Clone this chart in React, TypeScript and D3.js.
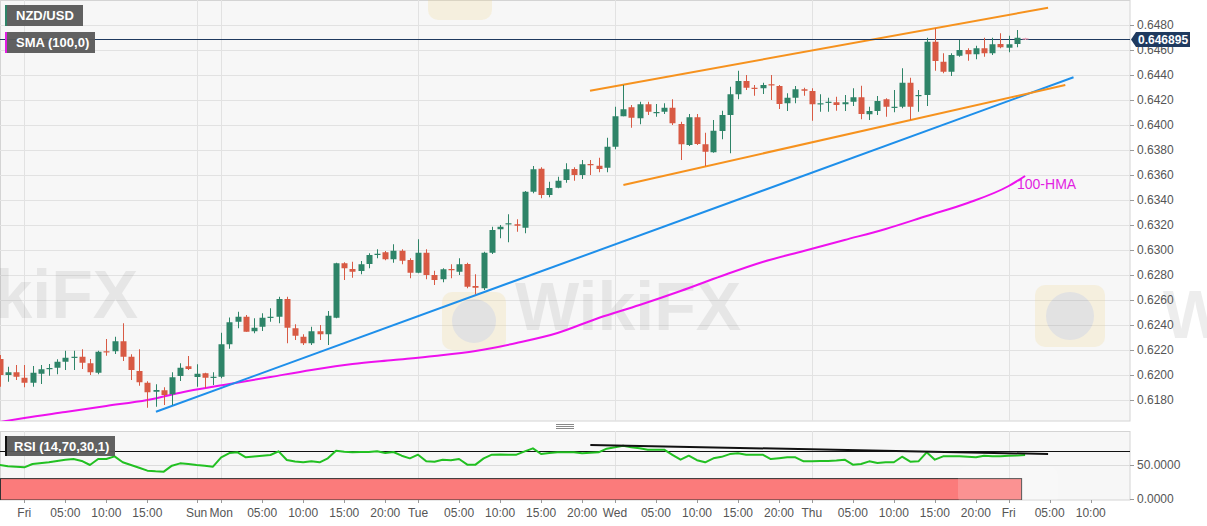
import React from "react";
import * as d3 from "d3";

// ---------- DATA ----------
const firstIndex = -3; // Thu 21:00, hourly candles, index 0 = Fri 00:00
const opens = [0.62128,0.62,0.62022,0.61978,0.61938,0.6201,0.62052,0.62058,0.62106,0.62138,0.62146,0.62094,0.62018,0.6219,0.6219,0.6227,0.62146,0.62032,0.61938,0.61866,0.61878,0.61846,0.61992,0.6207,0.61984,0.62014,0.61978,0.61986,0.62246,0.62426,0.62466,0.6235,0.62386,0.62458,0.62466,0.62608,0.62374,0.62306,0.62254,0.6235,0.62326,0.62458,0.62894,0.62848,0.62832,0.62888,0.6296,0.62982,0.62926,0.62994,0.6292,0.62818,0.62978,0.628,0.62766,0.62848,0.62826,0.62888,0.62712,0.62694,0.62978,0.63166,0.63206,0.63206,0.63178,0.63466,0.6365,0.6344,0.63498,0.6356,0.63648,0.636,0.63688,0.63674,0.63658,0.63826,0.6407,0.64142,0.64054,0.64166,0.64098,0.64106,0.64138,0.64008,0.6384,0.64062,0.63846,0.63782,0.63952,0.6408,0.64246,0.64352,0.64298,0.64294,0.64326,0.64312,0.64174,0.64218,0.64286,0.64272,0.64166,0.64178,0.64182,0.64166,0.64186,0.64222,0.64086,0.64112,0.64206,0.64138,0.64146,0.64338,0.64232,0.6424,0.64666,0.64506,0.64426,0.64554,0.646,0.64566,0.64614,0.64574,0.64648,0.64618,0.64648,0.64694];
const highs = [0.6216,0.62066,0.6208,0.6208,0.62072,0.6208,0.62088,0.62126,0.62194,0.62194,0.62206,0.62128,0.62194,0.62288,0.62306,0.62414,0.62166,0.62206,0.6195,0.61926,0.61902,0.62022,0.62094,0.62152,0.62086,0.62018,0.62022,0.62338,0.6246,0.62506,0.6248,0.62454,0.62494,0.62534,0.62626,0.62626,0.62406,0.62326,0.62386,0.624,0.62512,0.62898,0.62902,0.62906,0.62912,0.62974,0.63006,0.62992,0.63046,0.63006,0.62934,0.63086,0.63006,0.62834,0.62854,0.62886,0.62934,0.62898,0.62806,0.62986,0.63186,0.632,0.63286,0.63246,0.63472,0.63672,0.63662,0.63546,0.63586,0.63694,0.63662,0.6372,0.6372,0.63738,0.63898,0.64146,0.6432,0.6416,0.64186,0.64186,0.64168,0.64174,0.64206,0.64026,0.64088,0.64088,0.63938,0.6404,0.64114,0.64306,0.64434,0.644,0.6432,0.64338,0.644,0.6432,0.64254,0.64312,0.64298,0.64294,0.64246,0.64218,0.64226,0.6424,0.64294,0.64314,0.64146,0.64232,0.64214,0.6428,0.64454,0.64378,0.6428,0.64698,0.64774,0.64574,0.64574,0.6468,0.64614,0.64634,0.64698,0.64698,0.64734,0.64714,0.6476,0.64698];
const lows = [0.61906,0.61946,0.6196,0.61902,0.61906,0.61928,0.61994,0.62006,0.6204,0.6204,0.62048,0.62,0.62006,0.62154,0.62168,0.62112,0.6196,0.61914,0.61738,0.61746,0.6176,0.6176,0.61952,0.6204,0.61906,0.61894,0.6192,0.61974,0.6221,0.62374,0.62346,0.62334,0.62352,0.62426,0.62414,0.62254,0.6228,0.6224,0.6224,0.6228,0.6224,0.62454,0.6276,0.62778,0.62806,0.62854,0.62934,0.62918,0.62898,0.62886,0.62774,0.62814,0.62766,0.6272,0.62742,0.62774,0.628,0.62694,0.62646,0.6268,0.62968,0.63094,0.63062,0.63146,0.63134,0.63454,0.63414,0.63422,0.63494,0.63538,0.63554,0.63568,0.636,0.63622,0.63622,0.63806,0.6407,0.63978,0.64006,0.6408,0.64066,0.64088,0.64,0.6372,0.63832,0.6384,0.63672,0.63778,0.63886,0.63774,0.64206,0.6428,0.64234,0.64248,0.642,0.64128,0.64112,0.64174,0.64234,0.64034,0.64106,0.64106,0.64114,0.64112,0.64152,0.64046,0.6404,0.6408,0.64066,0.64102,0.64134,0.6404,0.64106,0.64152,0.64434,0.64414,0.64392,0.64546,0.64514,0.64526,0.64546,0.6456,0.64614,0.64582,0.64622,0.6468];
const closes = [0.62,0.62022,0.61986,0.61938,0.62018,0.62046,0.62056,0.62106,0.62138,0.62146,0.62098,0.62022,0.62186,0.62182,0.6227,0.62146,0.6204,0.61942,0.61862,0.6188,0.6184,0.61982,0.62058,0.62048,0.6201,0.61978,0.61986,0.62246,0.62422,0.62466,0.62346,0.62378,0.62458,0.62466,0.62608,0.62378,0.62314,0.62254,0.6235,0.62326,0.62474,0.62894,0.62854,0.62826,0.62886,0.6296,0.6297,0.62926,0.62994,0.62914,0.62818,0.62978,0.628,0.6276,0.62846,0.62838,0.62886,0.62706,0.62698,0.62978,0.6316,0.63186,0.63214,0.63194,0.63466,0.63646,0.6344,0.63496,0.63554,0.63646,0.636,0.63686,0.63678,0.63648,0.63826,0.6407,0.64126,0.64058,0.64166,0.64106,0.64104,0.64138,0.64014,0.63846,0.64062,0.63848,0.63786,0.63954,0.6408,0.64246,0.64352,0.64298,0.6429,0.6432,0.64318,0.64168,0.64218,0.64286,0.64274,0.64166,0.64174,0.64186,0.6416,0.64182,0.64222,0.64088,0.64112,0.64192,0.64146,0.64146,0.64338,0.64146,0.6424,0.64666,0.64512,0.64426,0.6456,0.646,0.64566,0.64614,0.64574,0.64646,0.64622,0.64646,0.64698,0.646895];
const lastPrice = 0.646895;

const priceTicks = [0.618,0.62,0.622,0.624,0.626,0.628,0.63,0.632,0.634,0.636,0.638,0.64,0.642,0.644,0.646,0.648];
const timeTickIdx = [0,5,10,15,21,24,29,34,39,44,48,53,58,63,68,72,77,82,87,92,96,101,106,111,116,120,125,130];
const timeTickLabels = ["Fri","05:00","10:00","15:00","Sun","Mon","05:00","10:00","15:00","20:00","Tue","05:00","10:00","15:00","20:00","Wed","05:00","10:00","15:00","20:00","Thu","05:00","10:00","15:00","20:00","Fri","05:00","10:00"];
const dayIdx = [0,21,24,48,72,96,120];

const hmaIdx = [-3,0,5,10,15,20,25,30,35,40,45,50,55,60,65,70,75,80,85,90,95,100,105,110,115,120,122];
const hmaVal = [0.61624,0.61656,0.61704,0.61752,0.618,0.61872,0.61928,0.61984,0.6204,0.62088,0.6212,0.62152,0.62192,0.62256,0.62336,0.62456,0.6256,0.62672,0.62792,0.62904,0.62992,0.6308,0.63168,0.63272,0.63376,0.63512,0.63592];

const rsiIdx = [-3,-2,0,1,3,5,6,7,8,9,10,11,12,13,14,15,16,17,18,19,20,21,22,23,24,25,26,27,28,29,30,31,32,33,34,35,36,37,38,39,40,41,42,43,44,45,46,47,48,49,50,51,52,53,54,55,56,57,58,59,60,61,62,63,64,65,66,67,68,69,70,71,72,73,74,75,76,77,78,79,80,81,82,83,84,85,86,87,88,89,90,91,92,93,94,95,96,97,98,99,100,101,102,103,104,105,106,107,108,109,110,111,112,113,114,115,116,117,118,119,120,121,122];
const rsiVal = [50,48,46.6,51.5,53.9,57.8,58.8,56,50,58.8,58.8,62.7,54,50,46,41.7,40.7,40.2,49,52.4,51.5,50,49,47.5,61.3,67.6,68.6,61.3,62.5,63.7,64.7,70.1,57.4,55,54,55.4,54,59.8,71,69.5,68.6,69,69.1,70.1,67.6,69.1,63.7,59.8,65.2,55.4,54.9,57.8,56.9,58.8,50.5,50.5,59.8,65.2,65.5,65.2,65.2,70,74.5,66.2,67.5,68.6,68.6,68.6,67.2,68,68.6,74,76,78.4,76,74.5,72.5,72.5,72.5,65,57.8,63.7,57,54,59.8,62,66,67.2,65.2,65.2,65.2,58.8,60,61.3,61.3,55.4,55.6,55.9,55.9,56.5,57.8,50.5,51.5,55.4,52.9,54,54,62.2,54.9,55.4,68.6,57.8,62.7,62.7,62.7,62,61.3,63.7,63,62.7,63.7,64,64.7];
const rsiLevelHigh = 70;
const rsiLevelMid = 50;
const rsiLevelLow = 30;

const supportLine: [number, number][] = [[16.05, 0.61706], [127.9, 0.64382]];
const channelUpper: [number, number][] = [[68.96, 0.64274], [124.8, 0.64938]];
const channelLower: [number, number][] = [[73.03, 0.6352], [126.9, 0.6432]];
const rsiTrend: [number, number][] = [[69, 79.4], [124.8, 66.2]];

// ---------- STYLE ----------
const FONT = "'Liberation Sans', Arial, sans-serif";
const GREEN = "#2e8468";
const RED = "#d85a44";
const GRID = "#e2e2e2";
const BG = "#f7f7f7";
const NAVY = "#1f3a5f";

export default function App() {
  const W = 1207, H = 526;
  const plotR = 1130;
  const mainB = 421;
  const rsiT = 431, rsiB = 500;

  const x = d3.scaleLinear().domain([0, 120]).range([24.3, 1008.7]);
  const y = d3.scaleLinear().domain([0.65 - mainB * 0.00008, 0.65]).range([mainB, 0]);
  const ry = d3.scaleLinear().domain([0, 100]).range([499, 431]);

  const seg = (pts: [number, number][], sy: any) =>
    d3.line<[number, number]>().x(d => x(d[0])).y(d => sy(d[1]))(pts) || "";

  const hmaPath = d3.line<number>().x((_, i) => x(hmaIdx[i])).y(d => y(d)).curve(d3.curveMonotoneX)(hmaVal) || "";
  const rsiPath = d3.line<number>().x((_, i) => x(rsiIdx[i])).y(d => ry(d))(rsiVal) || "";

  const lastIdx = firstIndex + opens.length - 1;
  const yLast = Math.round(y(lastPrice)) + 0.5;

  return (
    <div style={{ position: "absolute", left: 0, top: 0 }}>
      <svg width={W} height={H} style={{ display: "block", fontFamily: FONT }}>
        <defs>
          <clipPath id="mainClip"><rect x={0} y={0} width={plotR} height={mainB} /></clipPath>
          <clipPath id="rsiClip"><rect x={0} y={rsiT} width={plotR} height={rsiB - rsiT} /></clipPath>
        </defs>
        <rect x={0} y={0} width={W} height={H} fill="#ffffff" />
        {/* main panel */}
        <rect x={0.5} y={0.5} width={plotR - 0.5} height={mainB - 0.5} fill={BG} stroke="#d4d4d4" />
        {priceTicks.map((p, i) => (
          <line key={"g" + i} x1={0} x2={plotR} y1={Math.round(y(p)) + 0.5} y2={Math.round(y(p)) + 0.5} stroke={GRID} />
        ))}
        {dayIdx.map((d, i) => (
          <line key={"v" + i} x1={Math.round(x(d)) + 0.5} x2={Math.round(x(d)) + 0.5} y1={0} y2={mainB} stroke={GRID} />
        ))}

        {/* watermarks */}
        <g fill="#7a7a7a" opacity={0.13} fontWeight="bold" fontSize={68}>
          <text x={-88} y={318}>WikiFX</text>
          <text x={515} y={330}>WikiFX</text>
          <text x={1163} y={338}>WikiFX</text>
        </g>
        <g opacity={0.22}>
          <rect x={442} y={292} width={64} height={58} rx={10} fill="#f0d68a" />
          <circle cx={474} cy={321} r={22} fill="#9a9a9a" />
          <rect x={1035} y={285} width={70} height={62} rx={10} fill="#f0d68a" />
          <circle cx={1070} cy={316} r={24} fill="#9a9a9a" />
          <rect x={428} y={-40} width={64} height={60} rx={10} fill="#f0d68a" />
        </g>

        <g clipPath="url(#mainClip)">
          {/* HMA */}
          <path d={hmaPath} fill="none" stroke="#ee11ee" strokeWidth={2} />
          {/* trend lines */}
          <path d={seg(supportLine, y)} fill="none" stroke="#1e8fea" strokeWidth={2} />
          <path d={seg(channelUpper, y)} fill="none" stroke="#f6921e" strokeWidth={2} />
          <path d={seg(channelLower, y)} fill="none" stroke="#f6921e" strokeWidth={2} />
          {/* last price line */}
          <line x1={0} x2={plotR} y1={yLast} y2={yLast} stroke={NAVY} strokeWidth={1} />
          {/* candles */}
          {opens.map((o, i) => {
            const idx = firstIndex + i;
            const c = closes[i];
            const up = c >= o;
            const col = i === opens.length - 1 ? "#e7a3b6" : up ? GREEN : RED;
            const cx = Math.round(x(idx));
            const top = y(Math.max(o, c));
            const bot = y(Math.min(o, c));
            return (
              <g key={"c" + i}>
                <line x1={cx + 0.5} x2={cx + 0.5} y1={y(highs[i])} y2={y(lows[i])} stroke={col} strokeWidth={1} />
                <rect x={cx - 2.5} y={top} width={6} height={Math.max(1.2, bot - top)} fill={col} />
              </g>
            );
          })}
        </g>
        <text x={1017} y={189} fill="#e21ee2" fontSize={14}>100-HMA</text>

        {/* price axis */}
        {priceTicks.map((p, i) => (
          <g key={"pt" + i}>
            <line x1={plotR} x2={plotR + 4} y1={Math.round(y(p)) + 0.5} y2={Math.round(y(p)) + 0.5} stroke="#999" />
            <text x={1137} y={y(p) + 4} fontSize={12} fill="#555">{p.toFixed(4)}</text>
          </g>
        ))}
        <path d={`M${plotR + 1},${yLast} L${plotR + 6},${yLast - 7.5} L1190,${yLast - 7.5} L1190,${yLast + 7.5} L${plotR + 6},${yLast + 7.5} Z`} fill={NAVY} />
        <text x={1138} y={yLast + 4.5} fontSize={12} fontWeight="bold" fill="#ffffff">{lastPrice.toFixed(6)}</text>

        {/* legends */}
        <rect x={5} y={5} width={78} height={21} fill="#595959" opacity={0.95} />
        <rect x={5} y={5} width={2} height={21} fill={GREEN} />
        <text x={16} y={20} fontSize={13} fontWeight="bold" fill="#fff">NZD/USD</text>
        <rect x={5} y={32} width={90} height={21} fill="#595959" opacity={0.95} />
        <rect x={5} y={32} width={2} height={21} fill="#e21ee2" />
        <text x={16} y={47} fontSize={13} fontWeight="bold" fill="#fff">SMA (100,0)</text>

        {/* separator handle */}
        <g stroke="#888">
          <line x1={556} x2={574} y1={424.5} y2={424.5} />
          <line x1={556} x2={574} y1={426.5} y2={426.5} />
          <line x1={556} x2={574} y1={428.5} y2={428.5} />
        </g>

        {/* RSI panel */}
        <rect x={0.5} y={rsiT + 0.5} width={plotR - 0.5} height={rsiB - rsiT - 0.5} fill={BG} stroke="#d4d4d4" />
        {dayIdx.map((d, i) => (
          <line key={"rv" + i} x1={Math.round(x(d)) + 0.5} x2={Math.round(x(d)) + 0.5} y1={rsiT} y2={rsiB} stroke={GRID} />
        ))}
        <line x1={0} x2={plotR} y1={Math.round(ry(rsiLevelMid)) + 0.5} y2={Math.round(ry(rsiLevelMid)) + 0.5} stroke="#dcdcdc" />
        <g clipPath="url(#rsiClip)">
          <rect x={0.5} y={ry(rsiLevelLow)} width={x(lastIdx) - 4} height={rsiB - ry(rsiLevelLow)} fill="#fb7b7b" stroke="#333" strokeWidth={1} />
          <line x1={0} x2={plotR} y1={Math.round(ry(rsiLevelHigh)) + 0.5} y2={Math.round(ry(rsiLevelHigh)) + 0.5} stroke="#111" strokeWidth={1} />
          <rect x={958} y={466} width={100} height={40} rx={10} fill="#ffffff" opacity={0.18} />
          <path d={rsiPath} fill="none" stroke="#22c022" strokeWidth={2} strokeLinejoin="round" />
          <path d={seg(rsiTrend, ry)} fill="none" stroke="#111" strokeWidth={2} />
        </g>
        <rect x={5} y={436} width={110} height={20} fill="#595959" opacity={0.95} />
        <rect x={5} y={436} width={2} height={20} fill="#111" />
        <text x={14} y={451} fontSize={13} fontWeight="bold" fill="#fff">RSI (14,70,30,1)</text>
        {[rsiLevelMid, 0].map((v, i) => (
          <g key={"ra" + i}>
            <line x1={plotR} x2={plotR + 4} y1={Math.round(ry(v)) + 0.5} y2={Math.round(ry(v)) + 0.5} stroke="#999" />
            <text x={1137} y={ry(v) + 4} fontSize={12} fill="#555">{v.toFixed(4)}</text>
          </g>
        ))}

        {/* time axis */}
        {timeTickIdx.map((t, i) => (
          <g key={"tt" + i}>
            <line x1={Math.round(x(t)) + 0.5} x2={Math.round(x(t)) + 0.5} y1={rsiB} y2={rsiB + 3} stroke="#999" />
            <text x={x(t)} y={517} fontSize={12} fill="#555" textAnchor="middle">{timeTickLabels[i]}</text>
          </g>
        ))}
      </svg>
    </div>
  );
}
